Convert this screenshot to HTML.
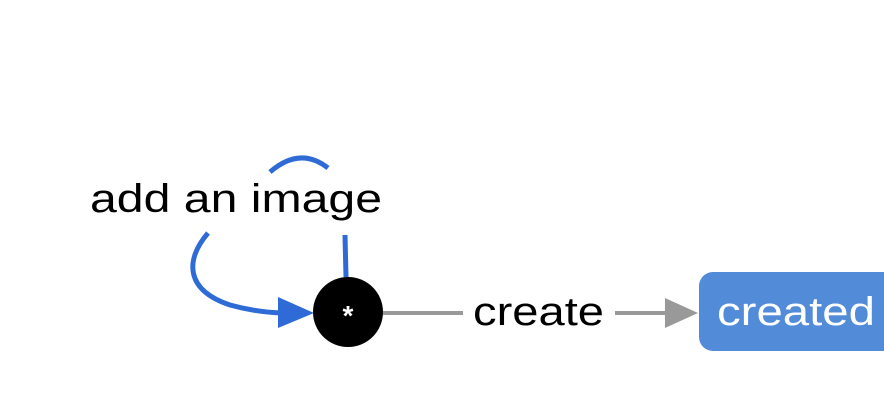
<!DOCTYPE html>
<html><head><style>
html,body{margin:0;padding:0;background:#fff;width:884px;height:418px;overflow:hidden}
svg{display:block}
text{font-family:"Liberation Sans",sans-serif}
</style></head><body>
<svg width="884" height="418" viewBox="0 0 884 418">
<path d="M346,277 L345,235" stroke="#2e6bd6" stroke-width="5" fill="none"/>
<path d="M270,172 Q300,146 328,168" stroke="#2e6bd6" stroke-width="5" fill="none"/>
<path d="M208,233 C185,260 185,290 230,305 Q255,312 282,313" stroke="#2e6bd6" stroke-width="5" fill="none"/>
<polygon points="278,297 314,313 278,328" fill="#2e6bd6"/>
<text x="90" y="212" font-size="40" textLength="292" lengthAdjust="spacingAndGlyphs" fill="#000">add an image</text>
<circle cx="348" cy="312" r="35" fill="#000"/>
<text x="348" y="325" font-size="28" text-anchor="middle" fill="#fff" font-weight="bold">*</text>
<line x1="383" y1="313" x2="463" y2="313" stroke="#999" stroke-width="4"/>
<line x1="615" y1="313" x2="668" y2="313" stroke="#999" stroke-width="4"/>
<polygon points="665,298 698,313 665,328" fill="#999"/>
<text x="473" y="325" font-size="40" textLength="131" lengthAdjust="spacingAndGlyphs" fill="#000">create</text>
<rect x="699" y="272" width="200" height="79" rx="14" fill="#528bd8"/>
<text x="717" y="325" font-size="40" textLength="158" lengthAdjust="spacingAndGlyphs" fill="#fff">created</text>
</svg>
</body></html>
